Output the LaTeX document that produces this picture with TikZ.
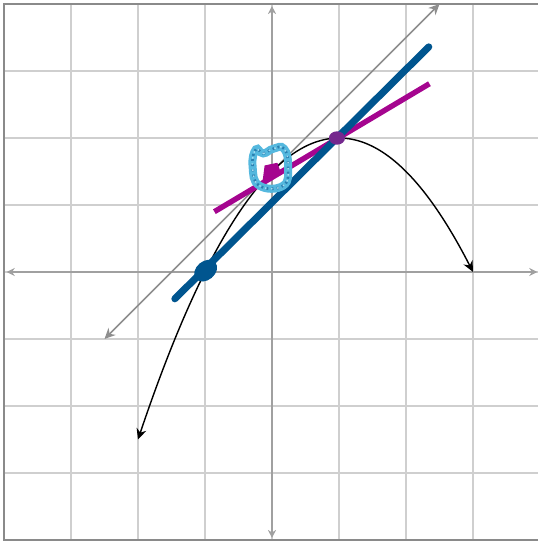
\documentclass[tikz,border=0pt]{standalone}
\usepackage{xcolor}
\usepackage{tikz}
\usetikzlibrary{
  arrows.meta,
  calc
}
\definecolor{GridGray}{HTML}{CFCFCF}
\definecolor{FrameGray}{HTML}{8A8A8A}
\definecolor{AxisGray}{HTML}{A0A0A0}
\definecolor{TangentGray}{HTML}{8E8E8E}
\definecolor{SecantBlue}{HTML}{00558F}
\definecolor{ChordMagenta}{HTML}{A5058F}
\definecolor{PointPurple}{HTML}{74288E}
\definecolor{MarkCyan}{HTML}{55B8DE}
\definecolor{MarkDark}{HTML}{2A7FB0}
\definecolor{MarkLight}{HTML}{A8DDF0}
\tikzset{
  gridline/.style={
    draw=GridGray,
    line width=0.5pt
  },
  frame/.style={
    draw=FrameGray,
    line width=0.8pt
  },
  axis/.style={
    draw=AxisGray,
    line width=0.6pt,
    {Stealth[length=1.2mm,width=1.2mm]}-{Stealth[length=1.2mm,width=1.2mm]}
  },
  curve/.style={
    draw=black,
    line width=0.6pt,
    {Stealth[length=1.6mm,width=1.5mm]}-{Stealth[length=1.6mm,width=1.5mm]}
  },
  tangent/.style={
    draw=TangentGray,
    line width=0.7pt,
    {Stealth[length=1.6mm,width=1.5mm]}-{Stealth[length=1.6mm,width=1.5mm]}
  },
  secant/.style={
    draw=SecantBlue,
    line width=3pt,
    line cap=round
  },
  chord/.style={
    draw=ChordMagenta,
    line width=2.3pt
  },
  scribble/.style={
    draw=MarkCyan,
    line width=3.4pt
  }
}

\begin{document}
\begin{tikzpicture}[x=1cm,y=1cm]

  \useasboundingbox
  (-4.06,-4.09) rectangle
  (3.97,4.06);

  % grid
  \foreach \i in {-3,...,3} {
    \draw[gridline]
    (\i,-4) --
    (\i,4);
    \draw[gridline]
    (-4,\i) --
    (4,\i);
  }
  \draw[frame]
  (-4,-4) rectangle
  (4,4);

  % axes
  \draw[axis]
  (-3.96,0) --
  (3.96,0);
  \draw[axis]
  (0,-3.97) --
  (0,3.97);

  % tangent line at (0,1.5)
  \coordinate (tanStart) at (-2.5,-1);
  \coordinate (tanEnd) at (2.5,4);
  \draw[tangent]
  (tanStart) --
  (tanEnd);

  % parabola
  \draw[curve]
  plot[domain=-2:3,samples=80,smooth]
  (\x,{2-(\x-1)*(\x-1)/2});

  % magenta line
  \coordinate (chordStart) at (-0.86,0.90);
  \coordinate (chordEnd) at (2.35,2.81);
  \draw[chord]
  (chordStart) --
  (chordEnd);

  % blue secant
  \coordinate (secStart) at (-1.45,-0.40);
  \coordinate (secEnd) at (2.34,3.36);
  \draw[secant]
  (secStart) --
  (secEnd);

  % points
  \fill[SecantBlue,rotate around={40:(-0.99,0.02)}]
  (-0.99,0.02) ellipse (0.19 and 0.14);
  \fill[PointPurple]
  (0.97,2.0) ellipse (0.12 and 0.1);

  % scribbled mark
  \fill[ChordMagenta]
  (-0.11,1.59) --
  (0.08,1.63) --
  (0.14,1.46) --
  (-0.14,1.36) --
  cycle;
  \draw[scribble]
  plot[smooth cycle,tension=0.8]
  coordinates {
    (-0.24,1.83) (-0.13,1.77) (0.02,1.84) (0.18,1.84)
    (0.24,1.58) (0.17,1.29) (-0.19,1.29) (-0.29,1.58)
  };
  \draw[MarkDark,line width=1.1pt,dash pattern=on 0.8pt off 1.4pt]
  plot[smooth cycle,tension=0.8]
  coordinates {
    (-0.24,1.83) (-0.13,1.77) (0.02,1.84) (0.18,1.84)
    (0.24,1.58) (0.17,1.29) (-0.19,1.29) (-0.29,1.58)
  };
  \draw[MarkLight,line width=0.6pt,dash pattern=on 0.6pt off 2pt]
  plot[smooth cycle,tension=0.8]
  coordinates {
    (-0.24,1.83) (-0.13,1.77) (0.02,1.84) (0.18,1.84)
    (0.24,1.58) (0.17,1.29) (-0.19,1.29) (-0.29,1.58)
  };

\end{tikzpicture}
\end{document}
